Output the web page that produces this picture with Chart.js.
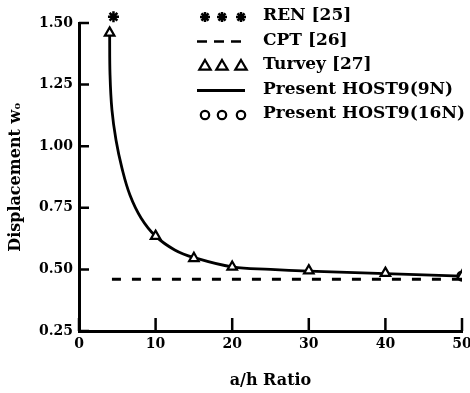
<!DOCTYPE html>
<html lang="en">
<head>
<meta charset="UTF-8">
<title>Displacement vs a/h Ratio</title>
<style>
    html, body { margin: 0; padding: 0; background: #fff; }
    #wrap { width: 470px; height: 393px; }
</style>
</head>
<body>
<div id="wrap"><canvas id="chart" width="470" height="393"></canvas></div>
<script src="https://cdn.jsdelivr.net/npm/chart.js"></script>
<script>
// tick values
const xTicks = [0, 10, 20, 30, 40, 50];
const yTicks = [0.25, 0.50, 0.75, 1.00, 1.25, 1.50];

// series
const renX = [4.5];
const renY = [1.525];
const cptX = [4.3, 50];
const cptY = [0.46, 0.46];
const turveyX = [4, 10, 15, 20, 30, 40, 50];
const turveyY = [1.46, 0.635, 0.545, 0.51, 0.495, 0.485, 0.473];
const host9X = [4, 4.05, 4.3, 4.83, 5.6, 6.65, 8.1, 10, 12.5, 15, 20, 25, 30, 40, 50];
const host9Y = [1.46, 1.29, 1.147, 1.025, 0.912, 0.802, 0.709, 0.635, 0.579, 0.548, 0.51, 0.50, 0.493, 0.483, 0.473];
const host16X = [50];
const host16Y = [0.473];

const legendLabels = ['REN [25]', 'CPT [26]', 'Turvey [27]', 'Present HOST9(9N)', 'Present HOST9(16N)'];

const serif = "'DejaVu Serif', 'Liberation Serif', serif";
const pts = (xs, ys) => xs.map((x, i) => ({ x: x, y: ys[i] }));

// small helpers for the legend symbols
function drawStar(ctx, x, y, r) {
    ctx.beginPath();
    for (let k = 0; k < 4; k++) {
        const a = k * Math.PI / 4;
        ctx.moveTo(x - Math.sin(a) * r, y - Math.cos(a) * r);
        ctx.lineTo(x + Math.sin(a) * r, y + Math.cos(a) * r);
    }
    ctx.stroke();
}
function drawTri(ctx, x, y, r) {
    ctx.beginPath();
    ctx.moveTo(x, y - r);
    ctx.lineTo(x + r * 0.95, y + r * 0.6);
    ctx.lineTo(x - r * 0.95, y + r * 0.6);
    ctx.closePath();
    ctx.fill();
    ctx.stroke();
}
function drawCircle(ctx, x, y, r) {
    ctx.beginPath();
    ctx.arc(x, y, r, 0, Math.PI * 2);
    ctx.fill();
    ctx.stroke();
}

// inward tick marks on both axes
const inwardTicks = {
    id: 'inwardTicks',
    afterDraw(chart) {
        const ctx = chart.ctx;
        const a = chart.chartArea;
        ctx.save();
        ctx.strokeStyle = '#000';
        ctx.lineWidth = 2.5;
        ctx.beginPath();
        xTicks.forEach(v => {
            const px = chart.scales.x.getPixelForValue(v);
            ctx.moveTo(px, a.bottom);
            ctx.lineTo(px, a.bottom - 13);
        });
        yTicks.forEach(v => {
            const py = chart.scales.y.getPixelForValue(v);
            ctx.moveTo(a.left, py);
            ctx.lineTo(a.left + 10, py);
        });
        ctx.stroke();
        ctx.restore();
    }
};

// legend in the upper right, three symbols per row
const symbolLegend = {
    id: 'symbolLegend',
    afterDraw(chart) {
        const ctx = chart.ctx;
        const marks = [205, 222, 241];
        ctx.save();
        ctx.strokeStyle = '#000';
        legendLabels.forEach((label, i) => {
            const y = 17 + i * 24.5;
            ctx.fillStyle = '#fff';
            ctx.lineWidth = 2.2;
            ctx.setLineDash([]);
            if (i === 0) {
                ctx.lineWidth = 2.5;
                marks.forEach(m => drawStar(ctx, m, y, 5));
            } else if (i === 1) {
                ctx.lineWidth = 2.5;
                ctx.setLineDash([10, 7]);
                ctx.beginPath();
                ctx.moveTo(197, y);
                ctx.lineTo(245, y);
                ctx.stroke();
            } else if (i === 2) {
                marks.forEach(m => drawTri(ctx, m, y, 6));
            } else if (i === 3) {
                ctx.lineWidth = 3;
                ctx.beginPath();
                ctx.moveTo(197, y);
                ctx.lineTo(245, y);
                ctx.stroke();
            } else {
                marks.forEach(m => drawCircle(ctx, m, y, 4.2));
            }
            ctx.fillStyle = '#000';
            ctx.font = 'bold 17px ' + serif;
            ctx.textBaseline = 'middle';
            ctx.textAlign = 'left';
            ctx.fillText(label, 263, y - 1);
        });
        ctx.restore();
    }
};

new Chart(document.getElementById('chart'), {
    type: 'scatter',
    data: {
        datasets: [
            {
                label: legendLabels[0],
                data: pts(renX, renY),
                pointStyle: 'star',
                pointRadius: 5.5,
                borderWidth: 2.5,
                borderColor: '#000',
                backgroundColor: '#000',
                clip: false,
                order: 0
            },
            {
                label: legendLabels[2],
                data: pts(turveyX, turveyY),
                pointStyle: 'triangle',
                pointRadius: 5.5,
                borderWidth: 2.2,
                borderColor: '#000',
                backgroundColor: '#fff',
                order: 0
            },
            {
                label: legendLabels[4],
                data: pts(host16X, host16Y),
                pointStyle: 'circle',
                pointRadius: 4.5,
                borderWidth: 2.2,
                borderColor: '#000',
                backgroundColor: '#fff',
                order: 1
            },
            {
                label: legendLabels[3],
                data: pts(host9X, host9Y),
                showLine: true,
                tension: 0.4,
                pointRadius: 0,
                borderWidth: 2.8,
                borderColor: '#000',
                order: 2
            },
            {
                label: legendLabels[1],
                data: pts(cptX, cptY),
                showLine: true,
                pointRadius: 0,
                borderWidth: 2.8,
                borderDash: [9, 11],
                borderColor: '#000',
                order: 3
            }
        ]
    },
    options: {
        responsive: false,
        animation: false,
        layout: { padding: { top: 23, right: 8, left: 0, bottom: 0 } },
        plugins: {
            legend: { display: false },
            tooltip: { enabled: false }
        },
        scales: {
            x: {
                type: 'linear',
                min: 0,
                max: 50,
                afterBuildTicks: s => { s.ticks = xTicks.map(v => ({ value: v })); },
                afterFit: s => {
                    s.height = 62;
                    s.paddingLeft = 0;
                    s.paddingRight = 0;
                },
                ticks: {
                    color: '#000',
                    padding: 5,
                    maxRotation: 0,
                    font: { family: serif, size: 14, weight: 'bold' }
                },
                grid: { drawOnChartArea: false, drawTicks: false },
                border: { color: '#000', width: 3 },
                title: {
                    display: true,
                    text: 'a/h Ratio',
                    color: '#000',
                    font: { family: serif, size: 16, weight: 'bold' },
                    padding: { top: 4, bottom: 3 }
                }
            },
            y: {
                type: 'linear',
                min: 0.25,
                max: 1.50,
                afterBuildTicks: s => { s.ticks = yTicks.map(v => ({ value: v })); },
                afterFit: s => {
                    s.width = 79;
                    s.paddingTop = 0;
                    s.paddingBottom = 0;
                },
                ticks: {
                    color: '#000',
                    padding: 6,
                    callback: v => v.toFixed(2),
                    font: { family: serif, size: 14, weight: 'bold' }
                },
                grid: { drawOnChartArea: false, drawTicks: false },
                border: { color: '#000', width: 3 },
                title: {
                    display: true,
                    text: 'Displacement wₒ',
                    color: '#000',
                    font: { family: serif, size: 16, weight: 'bold' },
                    padding: { top: 6, bottom: 4 }
                }
            }
        }
    },
    plugins: [inwardTicks, symbolLegend]
});
</script>
</body>
</html>
